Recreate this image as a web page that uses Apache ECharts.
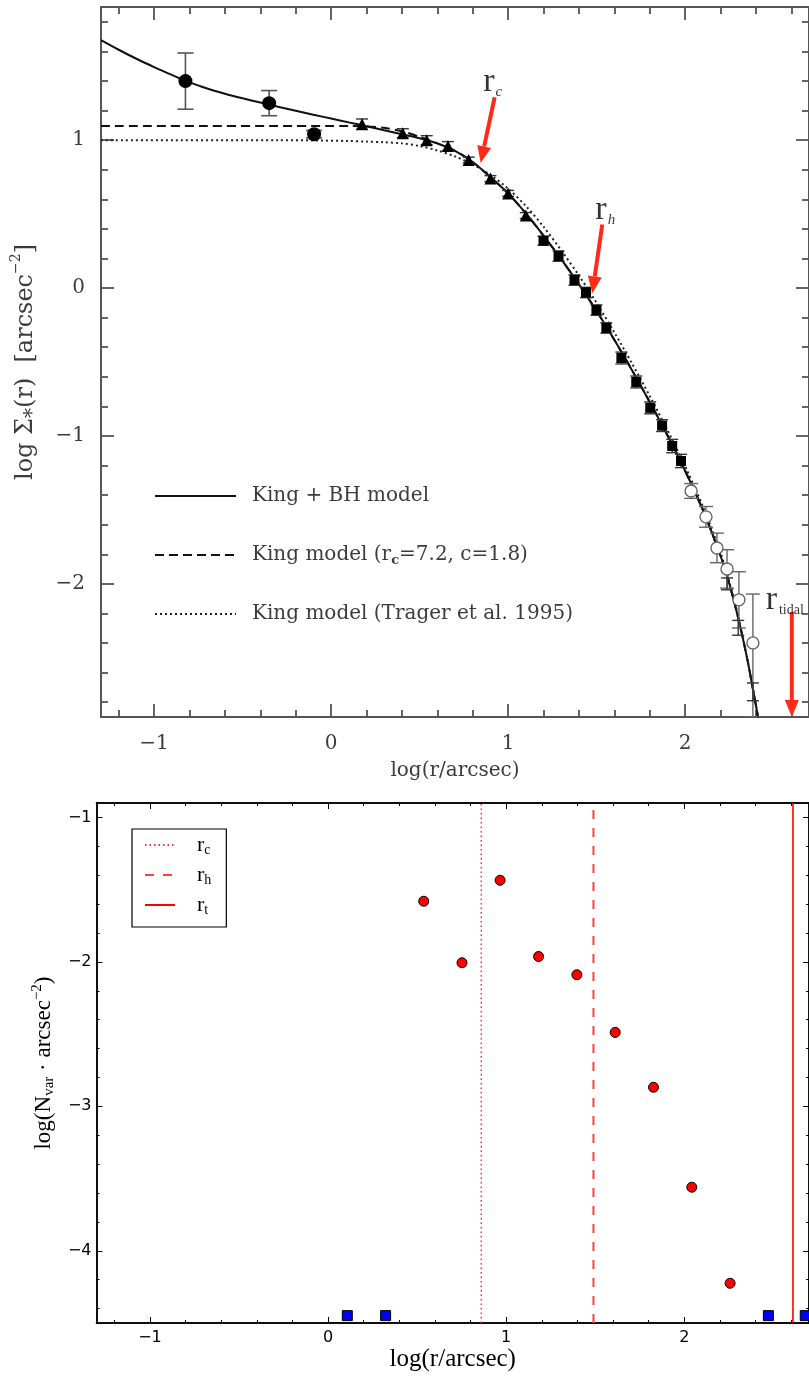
<!DOCTYPE html>
<html>
<head>
<meta charset="utf-8">
<script src="https://cdn.jsdelivr.net/npm/echarts@6/dist/echarts.min.js"></script>
<style>
html, body { margin: 0; padding: 0; background: #fff; }
#chart { width: 809px; height: 1378px; }
</style>
</head>
<body>
<div id="chart"></div>
<script>
// ---- tick labels ----
const xMajor = [-1, 0, 1, 2];
const profileYMajor = [-2, -1, 0, 1];
const varYMajor = [-4, -3, -2, -1];

// ---- surface density profile: model curves [log r, log Sigma] ----
const kingBH = [
  [-1.3, 1.676], [-1.2, 1.611], [-1.1, 1.55], [-1.0, 1.494], [-0.9, 1.441], [-0.8, 1.39],
  [-0.7, 1.349], [-0.6, 1.314], [-0.5, 1.283], [-0.4, 1.254], [-0.3, 1.226], [-0.2, 1.199],
  [-0.1, 1.172], [0.0, 1.146], [0.1, 1.12], [0.2, 1.094], [0.3, 1.067], [0.4, 1.04],
  [0.5, 1.013], [0.6, 0.978], [0.7, 0.928], [0.8, 0.852], [0.9, 0.75], [1.0, 0.64],
  [1.1, 0.505], [1.2, 0.355], [1.3, 0.195], [1.4, 0.025], [1.5, -0.155], [1.6, -0.35],
  [1.7, -0.555], [1.8, -0.77], [1.9, -0.995], [2.0, -1.235], [2.1, -1.5], [2.2, -1.81],
  [2.25, -2.0], [2.3, -2.23], [2.35, -2.5], [2.4, -2.82], [2.415, -2.92]
];
const kingFit = [
  [-1.3, 1.095], [0.1, 1.095], [0.2, 1.093], [0.3, 1.083], [0.4, 1.06], [0.5, 1.022],
  [0.6, 0.978], [0.7, 0.928], [0.8, 0.852], [0.9, 0.75], [1.0, 0.64],
  [1.1, 0.505], [1.2, 0.355], [1.3, 0.195], [1.4, 0.025], [1.5, -0.155], [1.6, -0.35],
  [1.7, -0.555], [1.8, -0.77], [1.9, -0.995], [2.0, -1.235], [2.1, -1.5], [2.2, -1.81],
  [2.25, -2.0], [2.3, -2.23], [2.35, -2.5], [2.4, -2.82], [2.415, -2.92]
];
const kingTrager = [
  [-1.3, 1.0], [-0.3, 1.0], [-0.1, 0.998], [0.1, 0.994], [0.2, 0.99], [0.3, 0.986],
  [0.4, 0.978], [0.5, 0.96], [0.6, 0.93], [0.7, 0.89], [0.8, 0.835], [0.9, 0.765],
  [1.0, 0.672], [1.1, 0.555], [1.2, 0.415], [1.3, 0.255], [1.4, 0.085], [1.5, -0.1],
  [1.6, -0.3], [1.7, -0.51], [1.8, -0.73], [1.9, -0.96], [2.0, -1.205], [2.1, -1.475],
  [2.2, -1.79], [2.25, -1.985], [2.3, -2.22], [2.35, -2.5], [2.4, -2.82], [2.415, -2.92]
];

// ---- measured profile points: [log r, log Sigma, err below, err above] ----
const innerPoints = [[-0.823, 1.399, 0.19, 0.19], [-0.35, 1.25, 0.085, 0.085], [-0.096, 1.04, 0.025, 0.025]];
const hstTriangles = [
  [0.175, 1.108, 0.035, 0.035], [0.405, 1.047, 0.03, 0.03], [0.54, 1.0, 0.03, 0.03],
  [0.66, 0.96, 0.03, 0.03], [0.777, 0.865, 0.02, 0.02], [0.9, 0.74, 0.02, 0.02],
  [1.0, 0.64, 0.02, 0.02], [1.1, 0.49, 0.02, 0.02]
];
const hstSquares = [
  [1.2, 0.32, 0.03, 0.03], [1.285, 0.216, 0.035, 0.035], [1.375, 0.054, 0.035, 0.035],
  [1.44, -0.03, 0.035, 0.035], [1.499, -0.149, 0.035, 0.035], [1.555, -0.27, 0.035, 0.035],
  [1.64, -0.473, 0.04, 0.04], [1.724, -0.635, 0.04, 0.04], [1.803, -0.81, 0.04, 0.04],
  [1.87, -0.93, 0.04, 0.04], [1.927, -1.068, 0.045, 0.045], [1.977, -1.169, 0.045, 0.045]
];
const outerCircles = [
  [2.034, -1.372, 0.05, 0.05], [2.118, -1.547, 0.07, 0.07], [2.18, -1.757, 0.1, 0.1],
  [2.237, -1.899, 0.13, 0.13], [2.304, -2.108, 0.19, 0.19], [2.383, -2.399, 0.5, 0.33]
];
const outerCrosses = [[2.237, -2.0, 0.04, 0.04], [2.3, -2.297, 0.05, 0.05], [2.383, -2.73, 0.06, 0.06]];

// ---- characteristic radii (log arcsec) ----
const rCore = 0.86, rHalf = 1.49, rTidal = 2.61;
// arrows: [x tail, y tail, x tip, y tip]
const radiusArrows = [[0.924, 1.29, 0.845, 0.845], [1.532, 0.43, 1.476, -0.035], [2.603, -2.19, 2.603, -2.9]];
const radiusLabels = [
  { x: 0.913, y: 1.392, sub: 'c', key: 'sc' },
  { x: 1.549, y: 0.527, sub: 'h', key: 'sc' },
  { x: 2.563, y: -2.108, sub: 'tidal', key: 'st' }
];

// ---- variable star density: [log r, log N_var] ----
const varDensity = [
  [0.537, -1.58], [0.752, -2.006], [0.966, -1.435], [1.182, -1.963], [1.397, -2.089],
  [1.612, -2.488], [1.827, -2.868], [2.042, -3.56], [2.257, -4.225]
];
const emptyBins = [[0.108, -4.449], [0.323, -4.449], [2.472, -4.449], [2.679, -4.449]];

// ---- axis helpers ----
const minus = v => (v < 0 ? '\u2212' + Math.abs(v) : String(v));
function minorBetween(lo, hi, step, skip) {
  const out = [];
  for (let k = Math.ceil(lo / step - 1e-9); k * step <= hi + 1e-9; k++) {
    const v = Math.round(k * step * 10) / 10;
    if (v > lo && v < hi && !skip.includes(v)) out.push(v);
  }
  return out;
}
function edgeAxis(g, pos, min, max, ticks, len, st, extra) {
  return Object.assign({
    type: 'value', gridIndex: g, position: pos, min: min, max: max,
    axisLine: { show: true, onZero: false, lineStyle: { color: st.color, width: st.width } },
    axisTick: { show: true, inside: true, length: len, customValues: ticks,
      lineStyle: { color: st.color, width: st.tickWidth } },
    axisLabel: { show: false },
    splitLine: { show: false },
    minorTick: { show: false },
    axisPointer: { show: false }
  }, extra || {});
}
function frame(g, xr, yr, xMaj, yMaj, st, xExtra, yExtra) {
  const xMin = minorBetween(xr[0], xr[1], 0.2, xMaj);
  const yMin = minorBetween(yr[0], yr[1], 0.2, yMaj);
  return {
    x: [
      edgeAxis(g, 'bottom', xr[0], xr[1], xMaj, st.major, st, xExtra),
      edgeAxis(g, 'bottom', xr[0], xr[1], xMin, st.minor, st),
      edgeAxis(g, 'top', xr[0], xr[1], xMaj, st.major, st),
      edgeAxis(g, 'top', xr[0], xr[1], xMin, st.minor, st)
    ],
    y: [
      edgeAxis(g, 'left', yr[0], yr[1], yMaj, st.major, st, yExtra),
      edgeAxis(g, 'left', yr[0], yr[1], yMin, st.minor, st),
      edgeAxis(g, 'right', yr[0], yr[1], yMaj, st.major, st),
      edgeAxis(g, 'right', yr[0], yr[1], yMin, st.minor, st)
    ]
  };
}

const serif = 'DejaVu Serif';
const grey = '#3c3c3c';
const topStyle = { color: '#555', width: 2, tickWidth: 1.8, major: 13, minor: 7 };
const topLabel = { fontFamily: serif, fontSize: 20, color: grey };
const topFrame = frame(0, [-1.3, 2.7], [-2.9, 1.9], xMajor, profileYMajor, topStyle,
  {
    axisLabel: Object.assign({ show: true, customValues: xMajor, formatter: minus, margin: 17 }, topLabel),
    name: 'log(r/arcsec)', nameLocation: 'middle', nameGap: 44,
    nameTextStyle: { fontFamily: serif, fontSize: 20, color: grey }
  },
  {
    axisLabel: Object.assign({ show: true, customValues: profileYMajor, formatter: minus, margin: 16 }, topLabel),
    name: '{t|log \u03A3}{s|*}{t|(r)  [arcsec}{p|\u22122}{t|]}', nameLocation: 'middle', nameGap: 58,
    nameTextStyle: {
      rich: {
        t: { fontFamily: serif, fontSize: 24, color: grey },
        s: { fontFamily: serif, fontSize: 20, color: grey, verticalAlign: 'bottom', padding: [14, 0, 0, 0] },
        p: { fontFamily: serif, fontSize: 14, color: grey, verticalAlign: 'top', padding: [0, 0, 11, 0] }
      }
    }
  });

const botStyle = { color: '#000', width: 1.5, tickWidth: 1, major: 6, minor: 3 };
const botLabel = { fontFamily: 'DejaVu Sans', fontSize: 16, color: '#000' };
const cm = 'Liberation Serif';
const botFrame = frame(1, [-1.3, 2.7], [-4.5, -0.9], xMajor, varYMajor, botStyle,
  {
    axisLabel: Object.assign({ show: true, customValues: xMajor, formatter: minus, margin: 7 }, botLabel),
    name: 'log(r/arcsec)', nameLocation: 'middle', nameGap: 24,
    nameTextStyle: { fontFamily: cm, fontSize: 25, color: '#000' }
  },
  {
    axisLabel: Object.assign({ show: true, customValues: varYMajor, formatter: minus, margin: 5 }, botLabel),
    name: '{t|log(N}{s|var}{t| \u00B7 arcsec}{p|\u22122}{t|)}', nameLocation: 'middle', nameGap: 33,
    nameTextStyle: {
      rich: {
        t: { fontFamily: cm, fontSize: 23, color: '#000' },
        s: { fontFamily: cm, fontSize: 15, color: '#000', verticalAlign: 'bottom', padding: [12, 0, 0, 0] },
        p: { fontFamily: cm, fontSize: 15, color: '#000', verticalAlign: 'top', padding: [0, 0, 10, 0] }
      }
    }
  });

// ---- custom drawing helpers ----
function errorBars(data, color, capHalf, width) {
  return {
    type: 'custom', xAxisIndex: 0, yAxisIndex: 0, clip: true, z: 3, silent: true,
    data: data,
    encode: { x: 0, y: 1 },
    renderItem: function (params, api) {
      const x = api.value(0), y = api.value(1);
      const hi = api.coord([x, y + api.value(3)]);
      const lo = api.coord([x, y - api.value(2)]);
      const st = { stroke: color, lineWidth: width };
      return {
        type: 'group',
        children: [
          { type: 'line', shape: { x1: hi[0], y1: hi[1], x2: lo[0], y2: lo[1] }, style: st },
          { type: 'line', shape: { x1: hi[0] - capHalf, y1: hi[1], x2: hi[0] + capHalf, y2: hi[1] }, style: st },
          { type: 'line', shape: { x1: lo[0] - capHalf, y1: lo[1], x2: lo[0] + capHalf, y2: lo[1] }, style: st }
        ]
      };
    }
  };
}

const arrowRed = '#ff2a17';
const hiddenSymbol = { opacity: 0, color: 'rgba(0,0,0,0)', borderWidth: 0 };

const option = {
  animation: false,
  backgroundColor: '#fff',
  grid: [
    { left: 101, top: 7, width: 710, height: 710 },
    { left: 96.5, top: 803, width: 715, height: 520 }
  ],
  xAxis: topFrame.x.concat(botFrame.x),
  yAxis: topFrame.y.concat(botFrame.y),
  legend: [
    {
      data: ['King + BH model', 'King model (rc=7.2, c=1.8)', 'King model (Trager et al. 1995)'],
      orient: 'vertical', left: 154, top: 486, itemWidth: 81, itemHeight: 14, itemGap: 36.5,
      selectedMode: false, padding: 0, itemStyle: hiddenSymbol,
      formatter: function (name) {
        if (name.indexOf('rc=') >= 0) return '{a|King model (r}{s|c}{t|=7.2, c=1.8)}';
        return '{a|' + name + '}';
      },
      textStyle: {
        rich: {
          a: { fontFamily: serif, fontSize: 20, color: grey, lineHeight: 25, padding: [0, 0, 0, 11] },
          t: { fontFamily: serif, fontSize: 20, color: grey, lineHeight: 25 },
          s: { fontFamily: serif, fontSize: 13, fontWeight: 'bold', color: grey, lineHeight: 13,
               verticalAlign: 'bottom', padding: [12, 0, 0, 0] }
        }
      }
    },
    {
      data: ['rc', 'rh', 'rt'],
      orient: 'vertical', left: 132, top: 829, itemWidth: 30, itemHeight: 14, itemGap: 6,
      selectedMode: false, padding: [4, 15, 10, 12], itemStyle: hiddenSymbol,
      borderColor: '#000', borderWidth: 1.2, backgroundColor: '#fff',
      formatter: function (name) { return '{r|r}{s|' + name.charAt(1) + '}'; },
      textStyle: {
        rich: {
          r: { fontFamily: cm, fontSize: 22, color: '#000', lineHeight: 24, padding: [0, 0, 0, 17] },
          s: { fontFamily: cm, fontSize: 14, color: '#000', lineHeight: 14, verticalAlign: 'bottom', padding: [10, 0, 0, 0] }
        }
      }
    }
  ],
  series: [
    // model curves
    {
      name: 'King + BH model', type: 'line', xAxisIndex: 0, yAxisIndex: 0, data: kingBH,
      symbol: 'none', smooth: 0.3, z: 2,
      lineStyle: { color: '#111', width: 2 }, itemStyle: { color: '#111' }
    },
    {
      name: 'King model (rc=7.2, c=1.8)', type: 'line', xAxisIndex: 0, yAxisIndex: 0, data: kingFit,
      symbol: 'none', smooth: 0.3, z: 2,
      lineStyle: { color: '#111', width: 2, type: [9, 5] }, itemStyle: { color: '#111' }
    },
    {
      name: 'King model (Trager et al. 1995)', type: 'line', xAxisIndex: 0, yAxisIndex: 0, data: kingTrager,
      symbol: 'none', smooth: 0.3, z: 2,
      lineStyle: { color: '#222', width: 2, type: [2, 3] }, itemStyle: { color: '#222' }
    },
    // measured profile
    errorBars(innerPoints, '#555', 8, 1.6),
    {
      name: 'inner', type: 'scatter', xAxisIndex: 0, yAxisIndex: 0, data: innerPoints,
      symbol: 'circle', symbolSize: 14, itemStyle: { color: '#000', opacity: 1 }, z: 4
    },
    errorBars(hstTriangles, '#333', 6, 1.4),
    {
      name: 'hst1', type: 'scatter', xAxisIndex: 0, yAxisIndex: 0, data: hstTriangles,
      symbol: 'triangle', symbolSize: 12, itemStyle: { color: '#000', opacity: 1 }, z: 4
    },
    errorBars(hstSquares, '#333', 6, 1.4),
    {
      name: 'hst2', type: 'scatter', xAxisIndex: 0, yAxisIndex: 0, data: hstSquares,
      symbol: 'rect', symbolSize: 10, itemStyle: { color: '#000', opacity: 1 }, z: 4
    },
    errorBars(outerCircles, '#666', 7, 1.4),
    {
      name: 'outer', type: 'scatter', xAxisIndex: 0, yAxisIndex: 0, data: outerCircles,
      symbol: 'circle', symbolSize: 12,
      itemStyle: { color: '#fff', borderColor: '#666', borderWidth: 1.4, opacity: 1 }, z: 4
    },
    errorBars(outerCrosses, '#333', 6, 1.4),
    // characteristic radius arrows
    {
      name: 'radii', type: 'custom', xAxisIndex: 0, yAxisIndex: 0, data: radiusArrows, z: 6, silent: true,
      encode: { x: [0, 2], y: [1, 3] },
      renderItem: function (params, api) {
        const p0 = api.coord([api.value(0), api.value(1)]);
        const p1 = api.coord([api.value(2), api.value(3)]);
        const dx = p1[0] - p0[0], dy = p1[1] - p0[1];
        const L = Math.sqrt(dx * dx + dy * dy), ux = dx / L, uy = dy / L;
        const head = 17, half = 7;
        const bx = p1[0] - ux * head, by = p1[1] - uy * head;
        return {
          type: 'group',
          children: [
            { type: 'line', shape: { x1: p0[0], y1: p0[1], x2: bx, y2: by },
              style: { stroke: arrowRed, lineWidth: 4 } },
            { type: 'polygon', shape: { points: [[p1[0], p1[1]], [bx - uy * half, by + ux * half], [bx + uy * half, by - ux * half]] },
              style: { fill: arrowRed } }
          ]
        };
      }
    },
    {
      name: 'radius labels', type: 'scatter', xAxisIndex: 0, yAxisIndex: 0, silent: true, z: 6,
      data: radiusLabels.map(d => ({ value: [d.x, d.y], sub: d.sub, key: d.key })),
      symbolSize: 1, itemStyle: { color: 'rgba(0,0,0,0)' },
      label: {
        show: true, position: 'inside',
        formatter: p => '{r|r}{' + p.data.key + '|' + p.data.sub + '}',
        rich: {
          r: { fontFamily: cm, fontSize: 34, color: '#000' },
          sc: { fontFamily: cm, fontStyle: 'italic', fontSize: 15, color: '#000', verticalAlign: 'bottom', padding: [0, 0, 0, 1] },
          st: { fontFamily: cm, fontSize: 14, color: '#000', verticalAlign: 'bottom', padding: [0, 0, 0, 2] }
        }
      }
    },
    // variable-star panel: radii
    {
      name: 'rc', type: 'line', xAxisIndex: 4, yAxisIndex: 4, symbol: 'none', z: 2,
      data: [[rCore, -4.5], [rCore, -0.9]],
      lineStyle: { color: '#ff3030', width: 1.5, type: [1.5, 3] }, itemStyle: { color: '#ff3030' }
    },
    {
      name: 'rh', type: 'line', xAxisIndex: 4, yAxisIndex: 4, symbol: 'none', z: 2,
      data: [[rHalf, -4.5], [rHalf, -0.9]],
      lineStyle: { color: '#ff4040', width: 2, type: [9, 9] }, itemStyle: { color: '#ff4040' }
    },
    {
      name: 'rt', type: 'line', xAxisIndex: 4, yAxisIndex: 4, symbol: 'none', z: 2,
      data: [[rTidal, -4.5], [rTidal, -0.9]],
      lineStyle: { color: '#ff0000', width: 1.6 }, itemStyle: { color: '#ff0000' }
    },
    {
      name: 'variables', type: 'scatter', xAxisIndex: 4, yAxisIndex: 4, data: varDensity, z: 4,
      symbol: 'circle', symbolSize: 10,
      itemStyle: { color: '#ff0000', borderColor: '#000', borderWidth: 1, opacity: 1 }
    },
    {
      name: 'empty bins', type: 'scatter', xAxisIndex: 4, yAxisIndex: 4, data: emptyBins, z: 4,
      symbol: 'rect', symbolSize: 10,
      itemStyle: { color: '#0000ff', borderColor: '#000', borderWidth: 1, opacity: 1 }
    }
  ]
};

const chart = echarts.init(document.getElementById('chart'), null, { renderer: 'canvas' });
chart.setOption(option);
</script>
</body>
</html>
